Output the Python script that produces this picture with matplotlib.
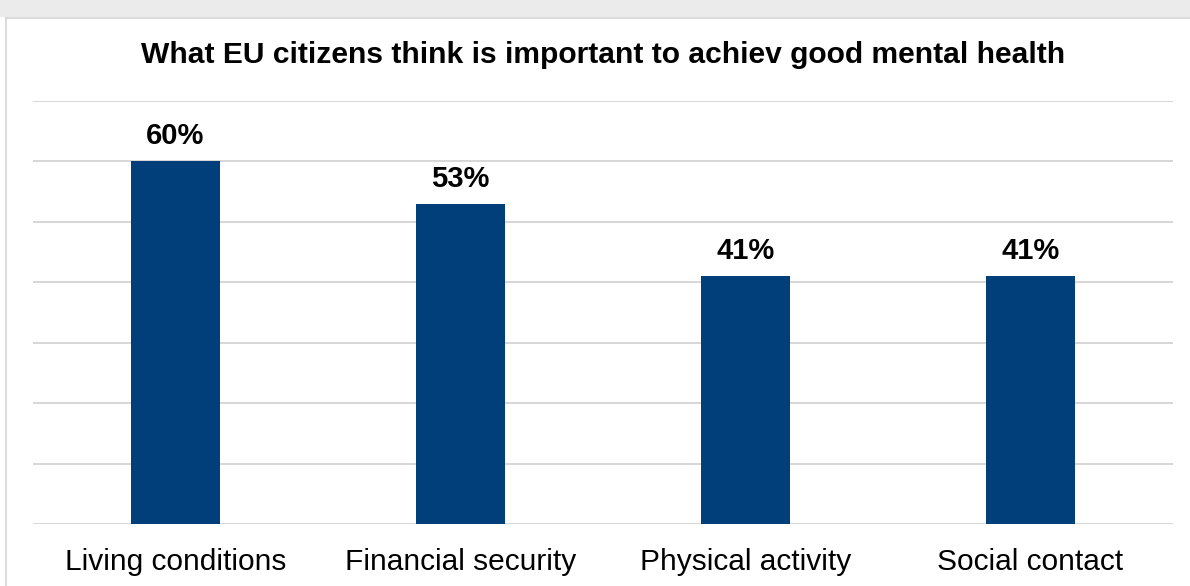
import matplotlib
matplotlib.use("Agg")
import matplotlib.pyplot as plt
from matplotlib.patches import Rectangle
from matplotlib.lines import Line2D

categories = ["Living conditions", "Financial security", "Physical activity", "Social contact"]
values = [60, 53, 41, 41]
labels = ["60%", "53%", "41%", "41%"]
title = "What EU citizens think is important to achiev good mental health"

plt.rcParams["font.family"] = ["Liberation Sans", "DejaVu Sans"]

W, H = 1190, 586
fig = plt.figure(figsize=(W / 100, H / 100), dpi=100)
fig.patch.set_facecolor("white")

# panel frame
fig.patches.append(Rectangle((0, 1 - 17 / H), 1, 17 / H, transform=fig.transFigure,
                             facecolor="#ebebeb", edgecolor="none", zorder=0))
fig.lines.append(Line2D([5.5 / W, 1], [1 - 17.5 / H, 1 - 17.5 / H], transform=fig.transFigure,
                        color="#d4d4d4", linewidth=1.2))
fig.lines.append(Line2D([5.5 / W, 5.5 / W], [0, 1 - 17.5 / H], transform=fig.transFigure,
                        color="#d4d4d4", linewidth=1.2))

ax = fig.add_axes([33 / W, (H - 524) / H, 1140 / W, 423 / H])
x = list(range(len(categories)))
bars = ax.bar(x, values, width=0.312, color="#003f7a", zorder=3)
ax.set_xlim(-0.5, len(categories) - 0.5)
ax.set_ylim(0, 70)
ax.set_yticks(range(0, 71, 10))
ax.yaxis.grid(True, color="#d6d6d6", linewidth=1.4, zorder=0)
ax.tick_params(axis="y", left=False, labelleft=False)
ax.tick_params(axis="x", bottom=False, pad=14, labelsize=21.5, labelcolor="black")
ax.set_xticks(x)
ax.set_xticklabels(categories)
for s in ax.spines.values():
    s.set_visible(False)

for xi, v, lab in zip(x, values, labels):
    ax.annotate(lab, (xi, v), xytext=(0, 12.2), textcoords="offset points",
                ha="center", va="baseline", fontsize=21, fontweight="bold", color="black")

fig.text(603 / W, 1 - 62.7 / H, title, ha="center", va="baseline",
         fontsize=21.6, fontweight="bold", color="black")

fig.savefig("out.png", dpi=100)
